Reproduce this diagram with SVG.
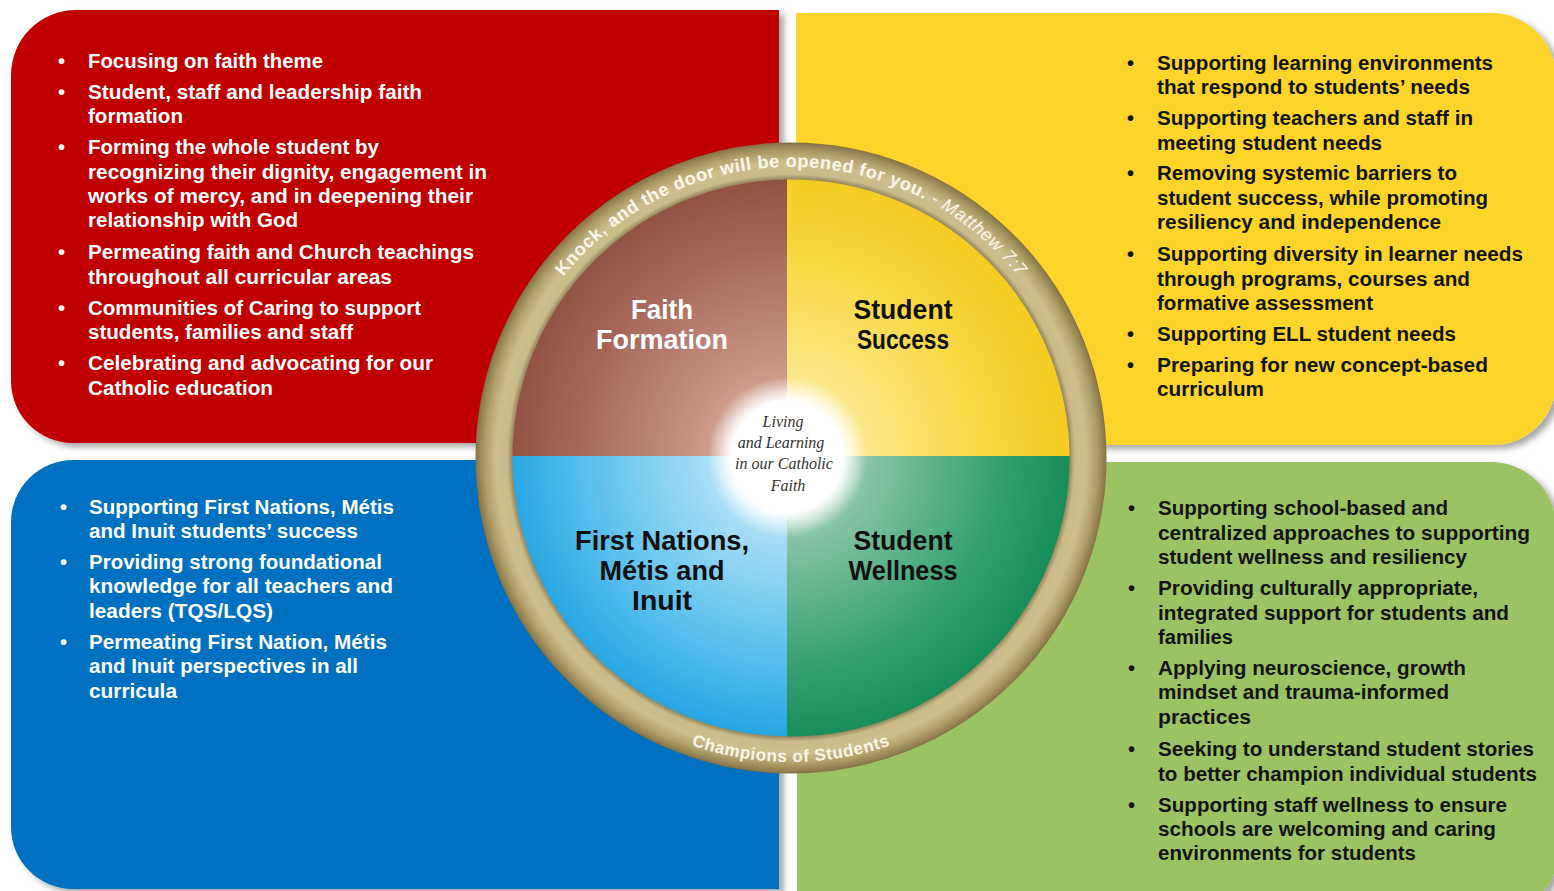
<svg xmlns="http://www.w3.org/2000/svg" width="1554" height="891" viewBox="0 0 1554 891">
  <defs>
    <style>
      .item { font-family: "Liberation Sans", Arial, sans-serif; font-weight: bold; font-size: 20px; }
      .light { fill: #ffffff; }
      .dark { fill: #141414; }
      .label { font-family: "Liberation Sans", Arial, sans-serif; font-weight: bold; font-size: 27px; text-anchor: middle; }
      .motto { font-family: "Liberation Serif", "Times New Roman", serif; font-style: italic; font-size: 16px; fill: #333333; text-anchor: middle; }
      .ringtxt { font-family: "Liberation Sans", Arial, sans-serif; font-weight: bold; fill: #fbf7ea; }
    </style>
    <filter id="shadow" x="-5%" y="-5%" width="115%" height="115%">
      <feDropShadow dx="5" dy="4" stdDeviation="3" flood-color="#000000" flood-opacity="0.35"/>
    </filter>
    <clipPath id="disc">
      <circle cx="791" cy="458" r="283"/>
    </clipPath>
    <radialGradient id="gBrown" gradientUnits="userSpaceOnUse" cx="787" cy="456" r="300">
      <stop offset="0" stop-color="#e2c4b6"/>
      <stop offset="0.3" stop-color="#c89686"/>
      <stop offset="0.7" stop-color="#a56858"/>
      <stop offset="1" stop-color="#8a4a3c"/>
    </radialGradient>
    <radialGradient id="gYellow" gradientUnits="userSpaceOnUse" cx="787" cy="456" r="300">
      <stop offset="0" stop-color="#fff6c4"/>
      <stop offset="0.3" stop-color="#fbe682"/>
      <stop offset="0.7" stop-color="#f7d63a"/>
      <stop offset="1" stop-color="#f4ca1c"/>
    </radialGradient>
    <radialGradient id="gBlue" gradientUnits="userSpaceOnUse" cx="787" cy="456" r="300">
      <stop offset="0" stop-color="#d2f0fb"/>
      <stop offset="0.3" stop-color="#a2dcf4"/>
      <stop offset="0.7" stop-color="#52bdec"/>
      <stop offset="1" stop-color="#1a9fe0"/>
    </radialGradient>
    <radialGradient id="gGreen" gradientUnits="userSpaceOnUse" cx="787" cy="456" r="300">
      <stop offset="0" stop-color="#c4e2d2"/>
      <stop offset="0.3" stop-color="#82c2a2"/>
      <stop offset="0.7" stop-color="#36a070"/>
      <stop offset="1" stop-color="#0f8953"/>
    </radialGradient>
    <radialGradient id="glow" cx="0.5" cy="0.5" r="0.5">
      <stop offset="0" stop-color="#ffffff"/>
      <stop offset="0.7" stop-color="#ffffff"/>
      <stop offset="1" stop-color="#ffffff" stop-opacity="0"/>
    </radialGradient>
    <radialGradient id="gRing" gradientUnits="userSpaceOnUse" cx="791" cy="458" r="317">
      <stop offset="0.875" stop-color="#8a7a52"/>
      <stop offset="0.895" stop-color="#c9bb8a"/>
      <stop offset="0.93" stop-color="#cdbf8e"/>
      <stop offset="0.965" stop-color="#b09e68"/>
      <stop offset="0.99" stop-color="#8d7b4d"/>
      <stop offset="1" stop-color="#75653f"/>
    </radialGradient>
    <path id="arcTop" d="M 500 458 A 291 291 0 0 1 1082 458"/>
    <path id="arcBottom" d="M 487 458 A 304 304 0 0 0 1095 458"/>
  </defs>

  <rect width="1554" height="891" fill="#ffffff"/>

  <!-- Faith Formation panel -->
  <g id="panel-faith">
    <path d="M 76 10 H 779 V 443 H 73 A 62 62 0 0 1 11 381 V 75 A 65 65 0 0 1 76 10 Z" fill="#c00000" filter="url(#shadow)"/>
    <g class="item light">
      <text x="58" y="68">•</text>
      <text x="88" y="68" textLength="235" lengthAdjust="spacingAndGlyphs">Focusing on faith theme</text>
      <text x="58" y="99">•</text>
      <text x="88" y="99" textLength="334" lengthAdjust="spacingAndGlyphs">Student, staff and leadership faith</text>
      <text x="88" y="123" textLength="95" lengthAdjust="spacingAndGlyphs">formation</text>
      <text x="58" y="154">•</text>
      <text x="88" y="154" textLength="291" lengthAdjust="spacingAndGlyphs">Forming the whole student by</text>
      <text x="88" y="179" textLength="399" lengthAdjust="spacingAndGlyphs">recognizing their dignity, engagement in</text>
      <text x="88" y="203" textLength="385" lengthAdjust="spacingAndGlyphs">works of mercy, and in deepening their</text>
      <text x="88" y="227" textLength="210" lengthAdjust="spacingAndGlyphs">relationship with God</text>
      <text x="58" y="259">•</text>
      <text x="88" y="259" textLength="386" lengthAdjust="spacingAndGlyphs">Permeating faith and Church teachings</text>
      <text x="88" y="284" textLength="304" lengthAdjust="spacingAndGlyphs">throughout all curricular areas</text>
      <text x="58" y="315">•</text>
      <text x="88" y="315" textLength="333" lengthAdjust="spacingAndGlyphs">Communities of Caring to support</text>
      <text x="88" y="339" textLength="265" lengthAdjust="spacingAndGlyphs">students, families and staff</text>
      <text x="58" y="370">•</text>
      <text x="88" y="370" textLength="345" lengthAdjust="spacingAndGlyphs">Celebrating and advocating for our</text>
      <text x="88" y="395" textLength="185" lengthAdjust="spacingAndGlyphs">Catholic education</text>
    </g>
  </g>

  <!-- Student Success panel -->
  <g id="panel-success">
    <path d="M 796 13 H 1491 A 65 65 0 0 1 1556 78 V 382 A 63 63 0 0 1 1493 445 H 796 Z" fill="#fdd52b" filter="url(#shadow)"/>
    <g class="item dark">
      <text x="1127" y="70">•</text>
      <text x="1157" y="70" textLength="336" lengthAdjust="spacingAndGlyphs">Supporting learning environments</text>
      <text x="1157" y="94" textLength="313" lengthAdjust="spacingAndGlyphs">that respond to students’ needs</text>
      <text x="1127" y="125">•</text>
      <text x="1157" y="125" textLength="316" lengthAdjust="spacingAndGlyphs">Supporting teachers and staff in</text>
      <text x="1157" y="150" textLength="225" lengthAdjust="spacingAndGlyphs">meeting student needs</text>
      <text x="1127" y="180">•</text>
      <text x="1157" y="180" textLength="300" lengthAdjust="spacingAndGlyphs">Removing systemic barriers to</text>
      <text x="1157" y="205" textLength="331" lengthAdjust="spacingAndGlyphs">student success, while promoting</text>
      <text x="1157" y="229" textLength="284" lengthAdjust="spacingAndGlyphs">resiliency and independence</text>
      <text x="1127" y="261">•</text>
      <text x="1157" y="261" textLength="366" lengthAdjust="spacingAndGlyphs">Supporting diversity in learner needs</text>
      <text x="1157" y="286" textLength="313" lengthAdjust="spacingAndGlyphs">through programs, courses and</text>
      <text x="1157" y="310" textLength="216" lengthAdjust="spacingAndGlyphs">formative assessment</text>
      <text x="1127" y="341">•</text>
      <text x="1157" y="341" textLength="299" lengthAdjust="spacingAndGlyphs">Supporting ELL student needs</text>
      <text x="1127" y="372">•</text>
      <text x="1157" y="372" textLength="331" lengthAdjust="spacingAndGlyphs">Preparing for new concept-based</text>
      <text x="1157" y="396" textLength="107" lengthAdjust="spacingAndGlyphs">curriculum</text>
    </g>
  </g>

  <!-- First Nations, Métis and Inuit panel -->
  <g id="panel-fnmi">
    <path d="M 73 460 H 779 V 889 H 73 A 62 62 0 0 1 11 827 V 522 A 62 62 0 0 1 73 460 Z" fill="#0070c0" filter="url(#shadow)"/>
    <g class="item light">
      <text x="60" y="514">•</text>
      <text x="89" y="514" textLength="305" lengthAdjust="spacingAndGlyphs">Supporting First Nations, Métis</text>
      <text x="89" y="538" textLength="269" lengthAdjust="spacingAndGlyphs">and Inuit students’ success</text>
      <text x="60" y="569">•</text>
      <text x="89" y="569" textLength="293" lengthAdjust="spacingAndGlyphs">Providing strong foundational</text>
      <text x="89" y="593" textLength="304" lengthAdjust="spacingAndGlyphs">knowledge for all teachers and</text>
      <text x="89" y="618" textLength="184" lengthAdjust="spacingAndGlyphs">leaders (TQS/LQS)</text>
      <text x="60" y="649">•</text>
      <text x="89" y="649" textLength="298" lengthAdjust="spacingAndGlyphs">Permeating First Nation, Métis</text>
      <text x="89" y="673" textLength="269" lengthAdjust="spacingAndGlyphs">and Inuit perspectives in all</text>
      <text x="89" y="698" textLength="88" lengthAdjust="spacingAndGlyphs">curricula</text>
    </g>
  </g>

  <!-- Student Wellness panel -->
  <g id="panel-wellness">
    <path d="M 797 462 H 1491 A 65 65 0 0 1 1556 527 V 860 A 45 45 0 0 1 1511 905 H 797 Z" fill="#9cc364" filter="url(#shadow)"/>
    <g class="item dark">
      <text x="1128" y="515">•</text>
      <text x="1158" y="515" textLength="290" lengthAdjust="spacingAndGlyphs">Supporting school-based and</text>
      <text x="1158" y="540" textLength="372" lengthAdjust="spacingAndGlyphs">centralized approaches to supporting</text>
      <text x="1158" y="564" textLength="309" lengthAdjust="spacingAndGlyphs">student wellness and resiliency</text>
      <text x="1128" y="595">•</text>
      <text x="1158" y="595" textLength="320" lengthAdjust="spacingAndGlyphs">Providing culturally appropriate,</text>
      <text x="1158" y="620" textLength="351" lengthAdjust="spacingAndGlyphs">integrated support for students and</text>
      <text x="1158" y="644" textLength="75" lengthAdjust="spacingAndGlyphs">families</text>
      <text x="1128" y="675">•</text>
      <text x="1158" y="675" textLength="308" lengthAdjust="spacingAndGlyphs">Applying neuroscience, growth</text>
      <text x="1158" y="699" textLength="291" lengthAdjust="spacingAndGlyphs">mindset and trauma-informed</text>
      <text x="1158" y="724" textLength="93" lengthAdjust="spacingAndGlyphs">practices</text>
      <text x="1128" y="756">•</text>
      <text x="1158" y="756" textLength="376" lengthAdjust="spacingAndGlyphs">Seeking to understand student stories</text>
      <text x="1158" y="781" textLength="379" lengthAdjust="spacingAndGlyphs">to better champion individual students</text>
      <text x="1128" y="812">•</text>
      <text x="1158" y="812" textLength="349" lengthAdjust="spacingAndGlyphs">Supporting staff wellness to ensure</text>
      <text x="1158" y="836" textLength="338" lengthAdjust="spacingAndGlyphs">schools are welcoming and caring</text>
      <text x="1158" y="860" textLength="258" lengthAdjust="spacingAndGlyphs">environments for students</text>
    </g>
  </g>

  <!-- Central wheel -->
  <g id="wheel">
    <g clip-path="url(#disc)">
      <rect x="500" y="170" width="287" height="286" fill="url(#gBrown)"/>
      <rect x="787" y="170" width="300" height="286" fill="url(#gYellow)"/>
      <rect x="500" y="456" width="287" height="300" fill="url(#gBlue)"/>
      <rect x="787" y="456" width="300" height="300" fill="url(#gGreen)"/>
    </g>
    <circle cx="787" cy="457" r="80" fill="url(#glow)"/>
    <circle cx="791" cy="458" r="297" fill="none" stroke="url(#gRing)" stroke-width="37"/>

    <text class="ringtxt" font-size="18" letter-spacing="0.6"><textPath href="#arcTop" startOffset="50%" text-anchor="middle">Knock, and the door will be opened for you. <tspan font-style="italic" font-weight="normal">- Matthew 7:7</tspan></textPath></text>
    <text class="ringtxt" font-size="17" letter-spacing="0.6"><textPath href="#arcBottom" startOffset="50%" text-anchor="middle">Champions of Students</textPath></text>

    <text class="label" x="662" y="319" fill="#ffffff" textLength="62" lengthAdjust="spacingAndGlyphs">Faith</text>
    <text class="label" x="662" y="349" fill="#ffffff" textLength="132" lengthAdjust="spacingAndGlyphs">Formation</text>
    <text class="label" x="903" y="319" fill="#111111" textLength="99" lengthAdjust="spacingAndGlyphs">Student</text>
    <text class="label" x="903" y="349" fill="#111111" textLength="92" lengthAdjust="spacingAndGlyphs">Success</text>
    <text class="label" x="662" y="550" fill="#111111" textLength="174" lengthAdjust="spacingAndGlyphs">First Nations,</text>
    <text class="label" x="662" y="580" fill="#111111" textLength="125" lengthAdjust="spacingAndGlyphs">Métis and</text>
    <text class="label" x="662" y="610" fill="#111111" textLength="60" lengthAdjust="spacingAndGlyphs">Inuit</text>
    <text class="label" x="903" y="550" fill="#111111" textLength="99" lengthAdjust="spacingAndGlyphs">Student</text>
    <text class="label" x="903" y="580" fill="#111111" textLength="109" lengthAdjust="spacingAndGlyphs">Wellness</text>

    <text class="motto" x="783" y="427">Living</text>
    <text class="motto" x="781" y="448">and Learning</text>
    <text class="motto" x="784" y="469">in our Catholic</text>
    <text class="motto" x="788" y="491">Faith</text>
  </g>

  <g id="connectors"/>
</svg>
